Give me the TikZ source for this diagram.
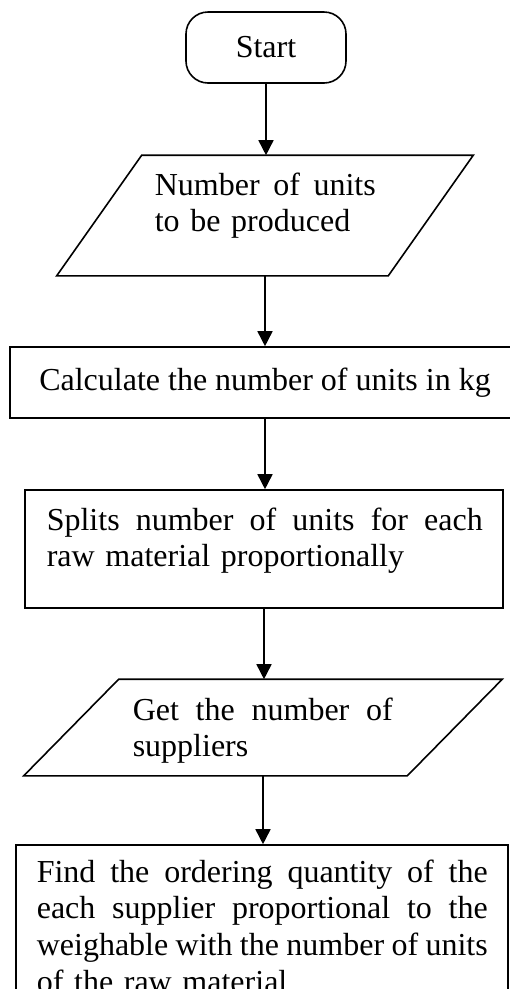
\documentclass[tikz,border=0pt]{standalone}
\usepackage{fontspec}
\setmainfont{Liberation Serif}
\usetikzlibrary{arrows.meta}
\newcommand\flowfont{\fontsize{32}{36.7}\selectfont}
\newcommand\jline[2]{\leavevmode\hbox to #1{#2}}
\begin{document}
\begin{tikzpicture}[x=1pt,y=-1pt,
  line width=1.6pt,
  every node/.style={font=\flowfont},
  box/.style={draw, rectangle, inner sep=0pt},
  term/.style={draw, rectangle, rounded corners=22pt, minimum width=160pt, minimum height=71pt, inner sep=0pt},
  ghost/.style={rectangle, inner sep=0pt},
  txt/.style={inner sep=0pt, anchor=base west, align=left},
  flow/.style={-{Triangle[width=15pt,length=15pt]}},
]
\useasboundingbox (0,0) rectangle (510,989);
\clip (0,0) rectangle (510,989);

% Start
\node[term] (start) at (266,47.5) {Start};

% Input 1
\node[ghost, minimum width=330pt, minimum height=119pt] (p1) at (265,215.5) {};
\draw ([xshift=42.5pt]p1.north west) -- ([xshift=42.5pt]p1.north east)
   -- ([xshift=-42.5pt]p1.south east) -- ([xshift=-42.5pt]p1.south west) -- cycle;
\node[txt, text width=221pt] (t1) at (154,195)
  {\jline{221pt}{Number\hfill of\hfill units}\\to be produced};

% Calculate
\node[box, minimum width=510pt, minimum height=71pt] (calc) at (265,382.5)
  {Calculate the number of units in kg};

% Split
\node[box, minimum width=478pt, minimum height=118pt] (split) at (264,549) {};
\node[txt, text width=436pt] (t3) at (46,530)
  {\jline{436pt}{Splits\hfill number\hfill of\hfill units\hfill for\hfill each}\\raw material proportionally};

% Input 2
\node[ghost, minimum width=382pt, minimum height=95pt] (p2) at (263,727.5) {};
\draw ([xshift=47.5pt]p2.north west) -- ([xshift=47.5pt]p2.north east)
   -- ([xshift=-47.5pt]p2.south east) -- ([xshift=-47.5pt]p2.south west) -- cycle;
\node[txt, text width=260pt] (t4) at (132,720)
  {\jline{260pt}{Get\hfill the\hfill number\hfill of}\\suppliers};

% Find
\node[box, minimum width=492pt, minimum height=170pt] (find) at (262,930) {};
\node[txt, text width=451pt] (t5) at (36,882)
  {\jline{451pt}{Find\hfill the\hfill ordering\hfill quantity\hfill of\hfill the}\\
   \jline{451pt}{each\hfill supplier\hfill proportional\hfill to\hfill the}\\
   \jline{451pt}{weighable\hfill with\hfill the\hfill number\hfill of\hfill units}\\
   of the raw material};

% Connectors
\draw[flow] (start.south) -- (start.south |- p1.north);
\draw[flow] (p1.south) -- (p1.south |- calc.north);
\draw[flow] (calc.south) -- (calc.south |- split.north);
\draw[flow] (split.south) -- (split.south |- p2.north);
\draw[flow] (p2.south) -- (p2.south |- find.north);
\end{tikzpicture}
\end{document}
